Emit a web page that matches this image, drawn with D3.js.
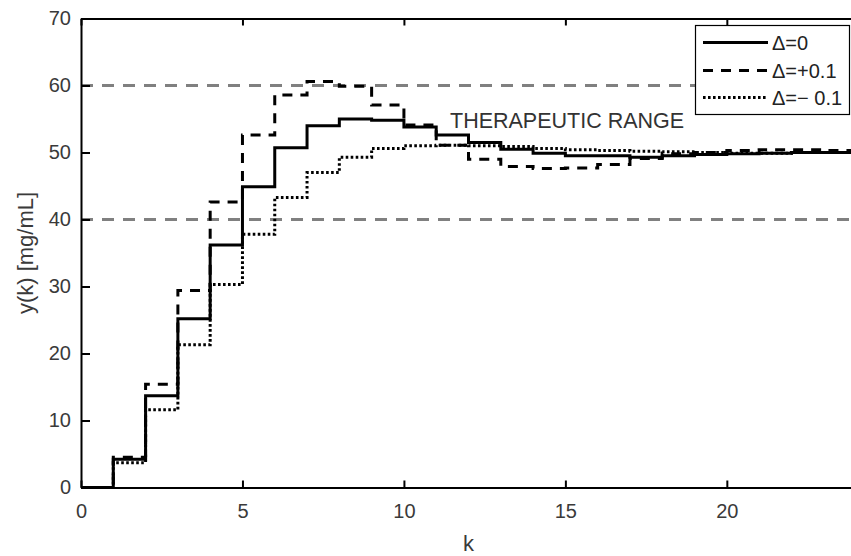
<!DOCTYPE html>
<html>
<head>
<meta charset="utf-8">
<script src="https://cdn.jsdelivr.net/npm/d3@7"></script>
<style>
  html, body { margin: 0; padding: 0; background: #fff; }
  svg { display: block; font-family: "Liberation Sans", Arial, Helvetica, sans-serif; }
</style>
</head>
<body>
<svg id="chart" width="851" height="556"></svg>
<script>
// Sampling instants k and the concentration response y(k) for three model errors
const kSteps = d3.range(0, 25);
const deltaZero  = [0, 4.2, 13.7, 25.2, 36.2, 44.9, 50.7, 54.0, 55.0, 54.8, 53.8, 52.6, 51.5, 50.5, 49.9, 49.5, 49.5, 49.3, 49.5, 49.7, 49.8, 49.9, 50.0, 50.0, 50.0];
const deltaPlus  = [0, 4.5, 15.4, 29.4, 42.6, 52.6, 58.6, 60.6, 59.9, 57.1, 54.1, 51.1, 49.0, 47.9, 47.6, 47.7, 48.2, 49.1, 49.8, 50.0, 50.3, 50.4, 50.4, 50.3, 50.2];
const deltaMinus = [0, 3.7, 11.6, 21.3, 30.3, 37.8, 43.3, 47.0, 49.3, 50.6, 51.0, 51.1, 51.0, 50.9, 50.6, 50.4, 50.3, 50.2, 50.1, 50.0, 49.9, 49.9, 50.0, 50.0, 50.0];

const seriesNames = ["\u0394=0", "\u0394=+0.1", "\u0394=\u2212 0.1"];
const rangeBounds = [40, 60];
const rangeLabel = "THERAPEUTIC RANGE";
const xTicks = [0, 5, 10, 15, 20];
const yTicks = [0, 10, 20, 30, 40, 50, 60, 70];
const xDomain = [0, 24];
const yDomain = [0, 70];

const svg = d3.select("#chart");
const plot = { left: 81, right: 856, top: 18.5, bottom: 487.5 };

const x = d3.scaleLinear().domain(xDomain).range([plot.left, plot.right]);
const y = d3.scaleLinear().domain(yDomain).range([plot.bottom, plot.top]);

const textColor = "#3a3a3a";

// therapeutic range bounds
svg.append("g").selectAll("line")
  .data(rangeBounds)
  .join("line")
  .attr("x1", x(xDomain[0])).attr("x2", x(xDomain[1]))
  .attr("y1", d => y(d)).attr("y2", d => y(d))
  .attr("stroke", "#808080")
  .attr("stroke-width", 3)
  .attr("stroke-dasharray", "12,9");

svg.append("text")
  .attr("x", 450).attr("y", 128)
  .attr("font-size", 21.5)
  .attr("fill", "#333")
  .text(rangeLabel);

// step responses
const styles = [
  { values: deltaZero,  dash: null,     width: 3 },
  { values: deltaPlus,  dash: "10,8",   width: 3 },
  { values: deltaMinus, dash: "2.6,2.4", width: 3 }
];

const stepLine = d3.line()
  .x(d => x(d[0]))
  .y(d => y(d[1]))
  .curve(d3.curveStepAfter);

const lines = svg.append("g");
[2, 1, 0].forEach(i => {
  const s = styles[i];
  lines.append("path")
    .attr("d", stepLine(kSteps.map((k, j) => [k, s.values[j]])))
    .attr("fill", "none")
    .attr("stroke", "#000")
    .attr("stroke-width", s.width)
    .attr("stroke-dasharray", s.dash);
});

// axes box: bottom and left with labels, top mirrored ticks
const xAxis = d3.axisBottom(x).tickValues(xTicks).tickSizeInner(-7).tickSizeOuter(0).tickPadding(16);
const yAxis = d3.axisLeft(y).tickValues(yTicks).tickSizeInner(-9).tickSizeOuter(0).tickPadding(10);
const xTop = d3.axisTop(x).tickValues(xTicks).tickSizeInner(-7).tickSizeOuter(0).tickFormat("");

function styleAxis(g) {
  g.select(".domain").attr("stroke", "#000").attr("stroke-width", 2);
  g.selectAll(".tick line").attr("stroke", "#000").attr("stroke-width", 2);
  g.selectAll(".tick text").attr("fill", textColor).attr("font-size", 20)
    .attr("font-family", "'Liberation Sans', Arial, Helvetica, sans-serif");
}

svg.append("g").attr("transform", `translate(0,${plot.bottom})`).call(xAxis).call(styleAxis);
svg.append("g").attr("transform", `translate(${plot.left},0)`).call(yAxis).call(styleAxis);
svg.append("g").attr("transform", `translate(0,${plot.top})`).call(xTop).call(styleAxis);

// axis titles
svg.append("text")
  .attr("x", (plot.left + plot.right) / 2).attr("y", 551)
  .attr("text-anchor", "middle")
  .attr("font-size", 22).attr("fill", textColor)
  .text("k");

svg.append("text")
  .attr("transform", `translate(33,${(plot.top + plot.bottom) / 2}) rotate(-90)`)
  .attr("text-anchor", "middle")
  .attr("font-size", 22).attr("fill", textColor)
  .text("y(k) [mg/mL]");

// legend
const legend = svg.append("g");
legend.append("rect")
  .attr("x", 695.5).attr("y", 25.5).attr("width", 154).attr("height", 89)
  .attr("fill", "#fff").attr("stroke", "#000").attr("stroke-width", 1.2);

const rowY = [42.5, 70.5, 97.5];
styles.forEach((s, i) => {
  legend.append("line")
    .attr("x1", 703).attr("x2", 768)
    .attr("y1", rowY[i]).attr("y2", rowY[i])
    .attr("stroke", "#000").attr("stroke-width", s.width)
    .attr("stroke-dasharray", s.dash);
  legend.append("text")
    .attr("x", 772).attr("y", rowY[i] + 7)
    .attr("font-size", 20).attr("fill", "#222")
    .text(seriesNames[i]);
});
</script>
</body>
</html>
